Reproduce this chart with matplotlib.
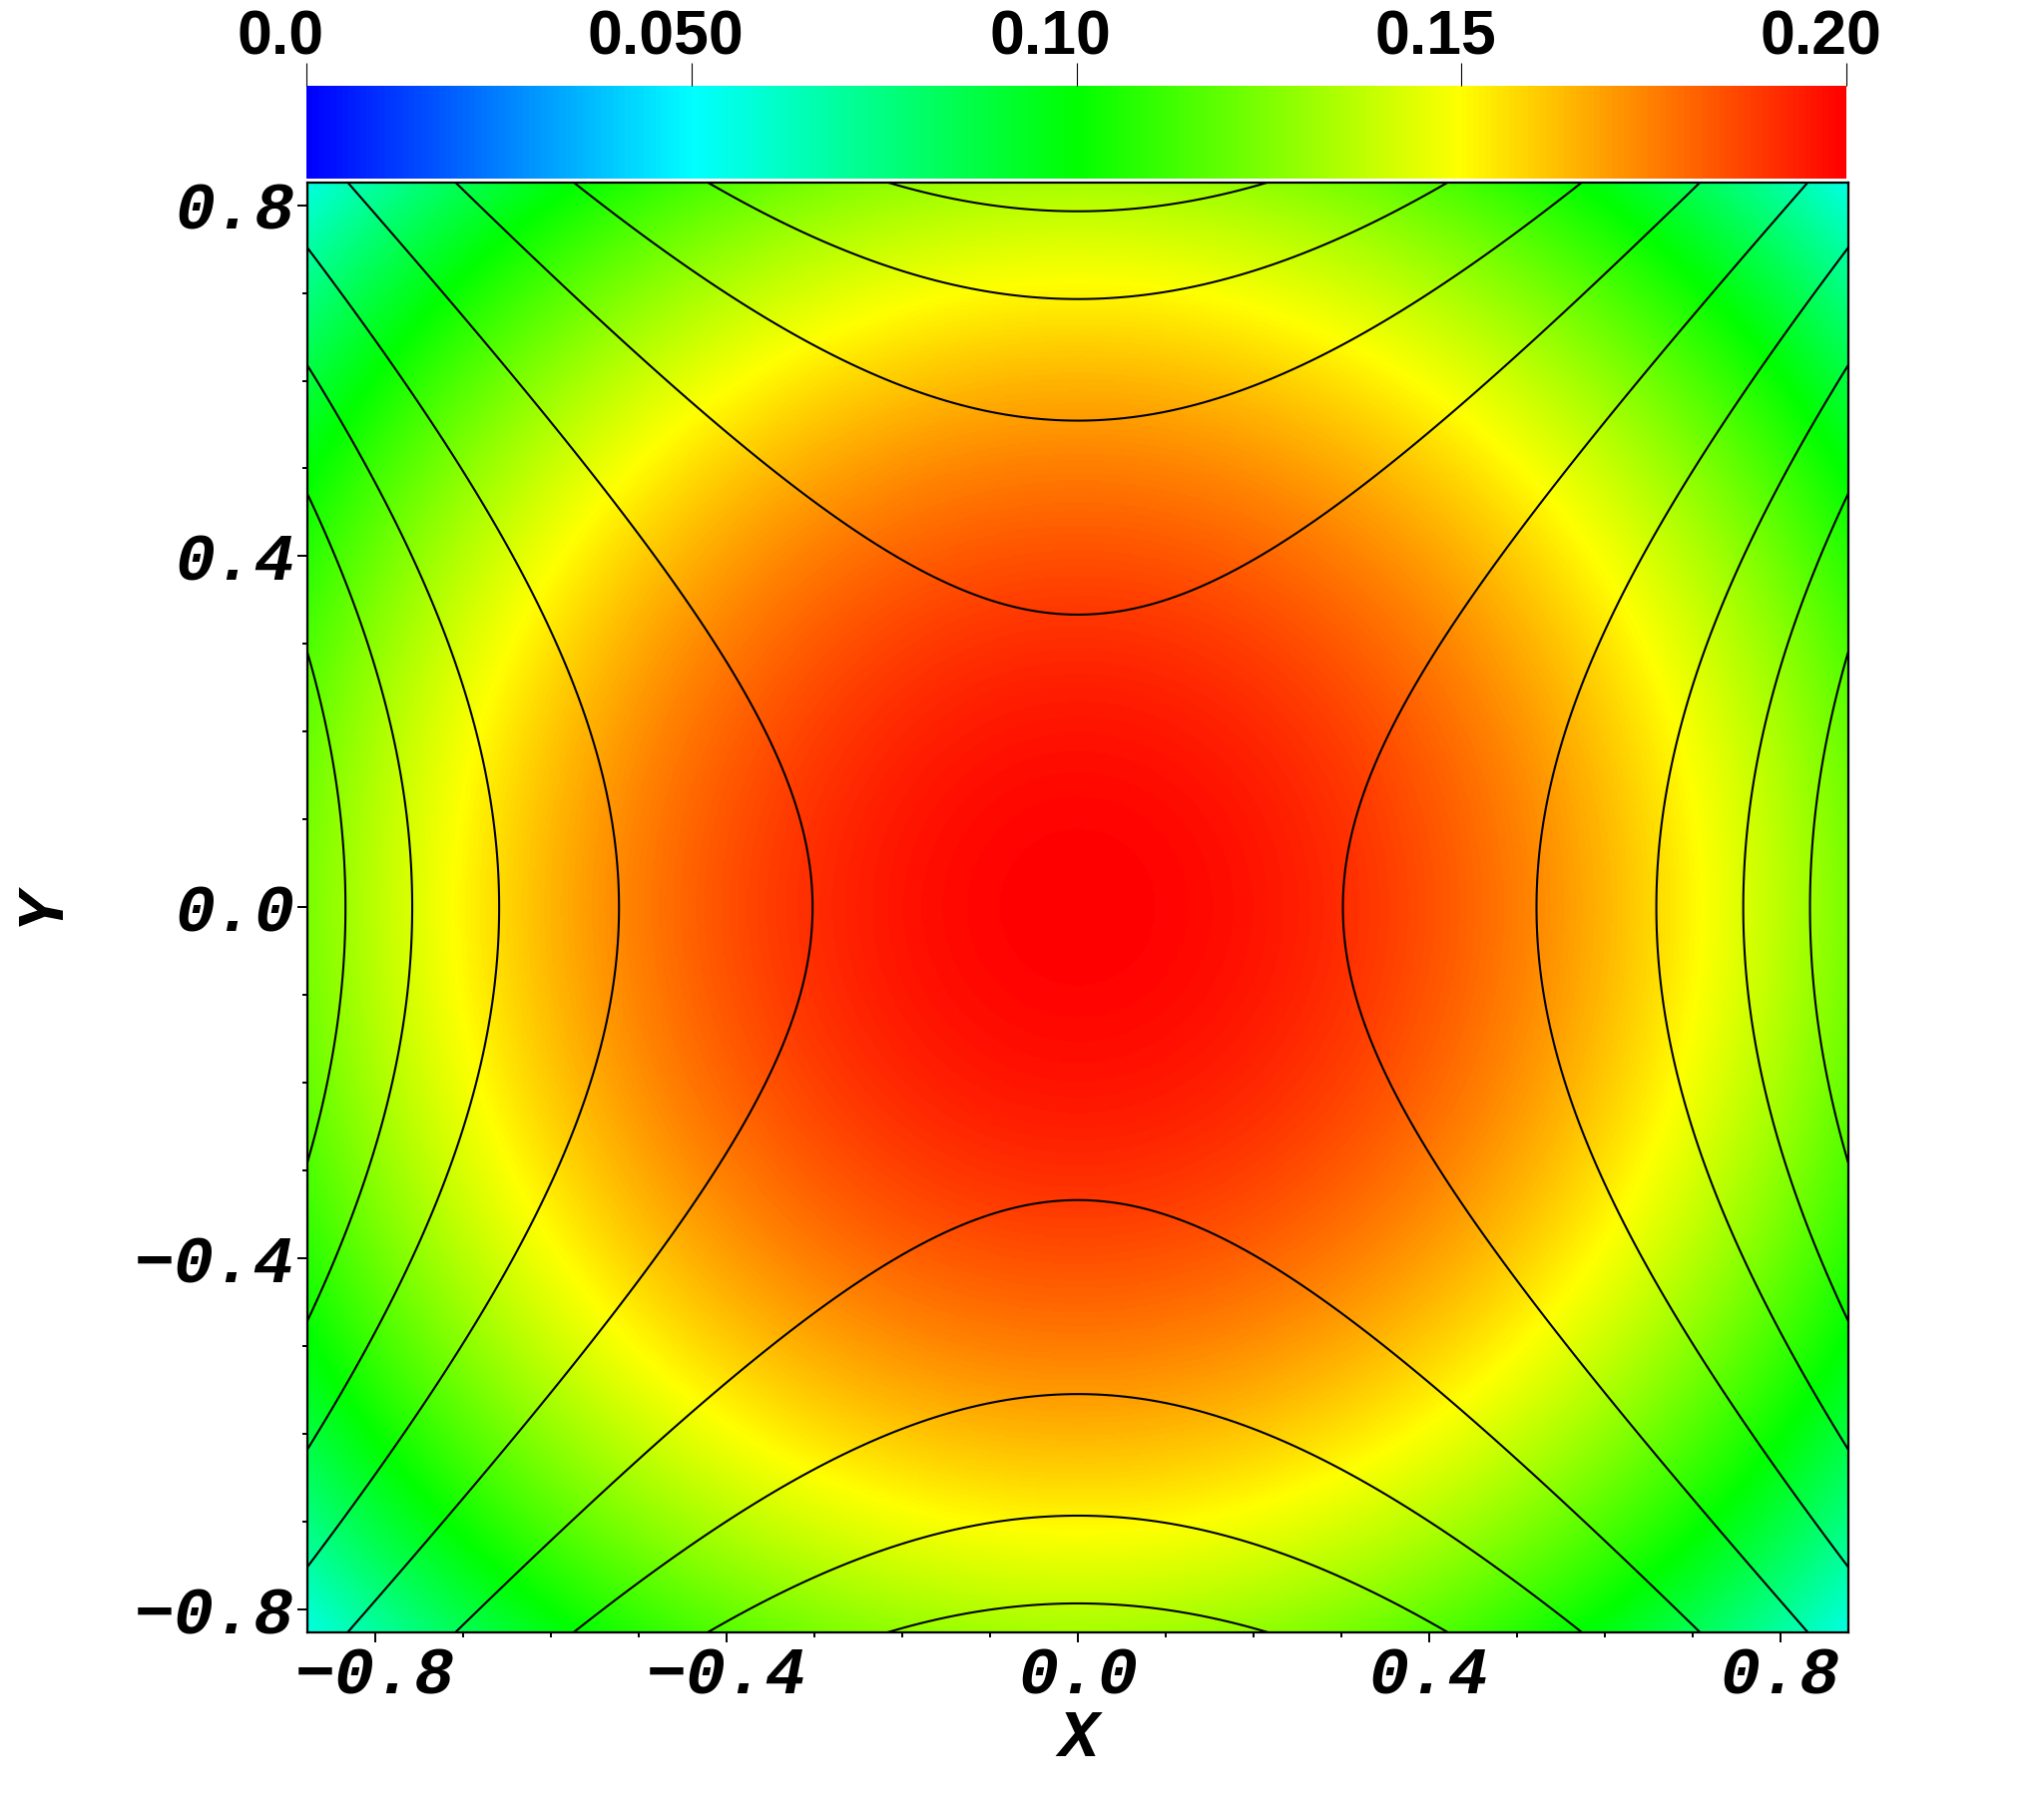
import numpy as np
import matplotlib
matplotlib.use('Agg')
import matplotlib.pyplot as plt
import matplotlib.transforms as mtransforms
from matplotlib.colors import LinearSegmentedColormap
from matplotlib.ticker import MultipleLocator, FixedLocator

# domain half-widths (data units)
x_half = 0.8775
y_half = 0.826

# colour field: peak value at centre, yellow ring radius
peak_val = 0.20
ring_val = 0.15
ring_radius = 0.71

side_vertices = [0.302, 0.5225, 0.659, 0.758, 0.834]   # on y = 0
top_vertices = [0.3335, 0.5545, 0.693, 0.793]          # on x = 0
k_aniso = 0.88

# colour bar
cbar_ticks = [0.0, 0.05, 0.10, 0.15, 0.20]
cbar_labels = ['0.0', '0.050', '0.10', '0.15', '0.20']
hot_colors = ['#0000ff', '#00ffff', '#00ff00', '#ffff00', '#ff0000']

# axis ticks
major_ticks = [-0.8, -0.4, 0.0, 0.4, 0.8]
tick_labels = ['\u22120.8', '\u22120.4', '0.0', '0.4', '0.8']

W, H = 2048, 1819
fig = plt.figure(figsize=(W / 100, H / 100), dpi=100)
ax = fig.add_axes([307 / W, 1 - 1636 / H, 1545.7 / W, 1453.3 / H])
cax = fig.add_axes([307 / W, 1 - 179 / H, 1543 / W, 93 / H])

cmap = LinearSegmentedColormap.from_list('visit_hot', hot_colors)

x = np.linspace(-x_half, x_half, 900)
y = np.linspace(-y_half, y_half, 850)
X, Y = np.meshgrid(x, y)
R2 = X ** 2 + Y ** 2
F = peak_val - (peak_val - ring_val) * R2 / ring_radius ** 2
G = X ** 2 - k_aniso * Y ** 2
levels = sorted([v ** 2 for v in side_vertices] +
                [-k_aniso * v ** 2 for v in top_vertices])

im = ax.imshow(F, extent=[-x_half, x_half, -y_half, y_half], origin='lower',
               cmap=cmap, vmin=0, vmax=0.2, interpolation='bilinear',
               aspect='equal')
ax.contour(X, Y, G, levels=levels, colors='black', linewidths=1.5,
           linestyles='solid')
ax.set_xlim(-x_half, x_half)
ax.set_ylim(-y_half, y_half)

mono = dict(family='Liberation Mono', weight='bold', style='italic', size=48)
ax.xaxis.set_major_locator(FixedLocator(major_ticks))
ax.yaxis.set_major_locator(FixedLocator(major_ticks))
ax.xaxis.set_minor_locator(MultipleLocator(0.1))
ax.yaxis.set_minor_locator(MultipleLocator(0.1))
ax.set_xticklabels(tick_labels, fontdict=mono)
ax.set_yticklabels(tick_labels, fontdict=mono)
ax.tick_params(which='major', length=7.2, width=1.4, pad=2)
ax.tick_params(which='minor', length=3.6, width=1.4)
for s in ax.spines.values():
    s.set_linewidth(1.6)

fig.text(1080 / W, 1 - 1743 / H, 'X', ha='center', va='center', **mono)
fig.text(42 / W, 1 - 908 / H, 'Y', ha='center', va='center', rotation=90, **mono)

cb = fig.colorbar(im, cax=cax, orientation='horizontal')
cb.outline.set_visible(False)
cax.xaxis.set_ticks_position('top')
cb.set_ticks(cbar_ticks)
cb.set_ticklabels(cbar_labels)
cax.tick_params(length=16.5, width=0.8, pad=-3)
shift = mtransforms.ScaledTranslation(-0.26, 0, fig.dpi_scale_trans)
for lab in cax.get_xticklabels():
    lab.set_fontfamily('Liberation Sans')
    lab.set_fontweight('bold')
    lab.set_fontsize(45)
    lab.set_transform(lab.get_transform() + shift)

fig.savefig('out.png', dpi=100)
